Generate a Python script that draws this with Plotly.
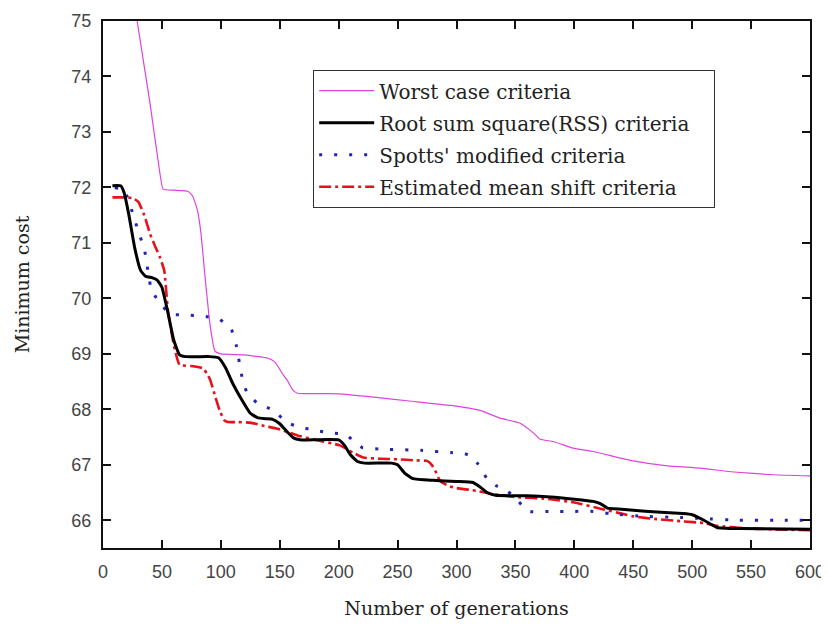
import plotly.graph_objects as go

# ---- data ----
worst_x = [25, 29, 40, 48, 51, 60, 72, 76, 80, 83, 87, 91, 95, 100, 120, 140, 146, 152, 157, 161, 165, 200, 230, 260, 295, 320, 337, 354, 365, 371, 382, 399, 416, 450, 479, 507, 535, 569, 600]
worst_y = [75.6, 75.0, 73.5, 72.3, 71.97, 71.95, 71.93, 71.85, 71.6, 71.2, 70.3, 69.5, 69.05, 69.0, 68.98, 68.92, 68.85, 68.65, 68.5, 68.35, 68.29, 68.28, 68.22, 68.15, 68.07, 67.98, 67.84, 67.75, 67.58, 67.46, 67.42, 67.3, 67.24, 67.07, 66.98, 66.94, 66.87, 66.82, 66.8]

rss_x = [8, 15, 18, 22, 27, 32, 36, 42, 46, 50, 55, 60, 65, 70, 90, 98, 104, 110, 117, 125, 131, 138, 144, 150, 156, 162, 167, 200, 205, 210, 216, 222, 245, 250, 256, 263, 280, 300, 314, 320, 326, 333, 360, 380, 400, 416, 422, 428, 440, 450, 470, 492, 500, 510, 521, 540, 600]
rss_y = [72.03, 72.03, 71.9, 71.5, 70.9, 70.5, 70.4, 70.37, 70.33, 70.2, 69.75, 69.25, 68.98, 68.95, 68.95, 68.93, 68.75, 68.47, 68.2, 67.93, 67.85, 67.83, 67.82, 67.74, 67.6, 67.48, 67.45, 67.45, 67.35, 67.18, 67.06, 67.03, 67.03, 67.0, 66.85, 66.75, 66.72, 66.7, 66.68, 66.6, 66.5, 66.45, 66.44, 66.42, 66.38, 66.34, 66.3, 66.22, 66.2, 66.18, 66.15, 66.12, 66.1, 66.0, 65.87, 65.85, 65.84]

spotts_x = [10, 18, 25, 30, 35, 41, 47, 51, 55, 59, 70, 85, 99, 105, 109, 113, 118, 122, 131, 145, 156, 167, 180, 195, 206, 213, 220, 240, 270, 295, 307, 313, 318, 323, 327, 334, 340, 350, 361, 380, 400, 416, 430, 460, 490, 509, 540, 570, 600]
spotts_y = [72.0, 71.95, 71.55, 71.2, 70.9, 70.16, 69.95, 69.85, 69.75, 69.71, 69.7, 69.68, 69.62, 69.52, 69.44, 69.16, 68.58, 68.31, 68.11, 67.98, 67.76, 67.68, 67.62, 67.57, 67.55, 67.42, 67.31, 67.28, 67.26, 67.22, 67.2, 67.15, 67.02, 66.85, 66.71, 66.62, 66.58, 66.4, 66.16, 66.16, 66.16, 66.16, 66.12, 66.07, 66.05, 66.03, 66.0, 66.0, 66.0]

ems_x = [8, 21, 26, 30, 35, 40, 44, 48, 52, 55, 58, 61, 65, 75, 85, 88, 91, 95, 99, 103, 106, 115, 125, 137, 148, 158, 165, 180, 201, 212, 221, 235, 250, 265, 275, 279, 283, 286, 293, 300, 317, 331, 350, 380, 400, 424, 440, 450, 470, 492, 510, 521, 550, 600]
ems_y = [71.82, 71.82, 71.8, 71.74, 71.5, 71.16, 70.95, 70.76, 70.5, 69.8, 69.4, 69.07, 68.8, 68.78, 68.74, 68.65, 68.53, 68.25, 67.98, 67.8, 67.77, 67.77, 67.76, 67.7, 67.65, 67.58, 67.53, 67.45, 67.35, 67.22, 67.13, 67.11, 67.1, 67.08, 67.07, 67.0, 66.85, 66.71, 66.62, 66.58, 66.53, 66.47, 66.42, 66.38, 66.32, 66.2, 66.12, 66.07, 66.02, 65.98, 65.95, 65.9, 65.85, 65.82]

x_ticks = [0, 50, 100, 150, 200, 250, 300, 350, 400, 450, 500, 550, 600]
y_ticks = [66, 67, 68, 69, 70, 71, 72, 73, 74, 75]

fig = go.Figure()
fig.add_trace(go.Scatter(x=worst_x, y=worst_y, mode="lines", name="Worst case criteria",
                         legendgroup="a", legendrank=1,
                         line=dict(color="#dd44dd", width=1.2, shape="spline", smoothing=0.4)))
fig.add_trace(go.Scatter(x=ems_x, y=ems_y, mode="lines", name="Estimated mean shift criteria",
                         legendgroup="d", legendrank=4,
                         line=dict(color="#e8101a", width=2.6, dash="12px,4px,3px,4px", shape="spline", smoothing=0.4)))
fig.add_trace(go.Scatter(x=spotts_x, y=spotts_y, mode="lines", name="Spotts' modified criteria",
                         legendgroup="c", legendrank=3,
                         line=dict(color="#2424b4", width=3, dash="3px,12px", shape="spline", smoothing=0.4)))
fig.add_trace(go.Scatter(x=rss_x, y=rss_y, mode="lines", name="Root sum square(RSS) criteria\u00a0\u00a0\u00a0",
                         legendgroup="b", legendrank=2,
                         line=dict(color="#000000", width=3, shape="spline", smoothing=0.4)))

axis_common = dict(showgrid=False, zeroline=False, showline=True, linecolor="#111", linewidth=2,
                   mirror="ticks", ticks="inside", ticklen=8, tickwidth=1.5, tickcolor="#111",
                   automargin=False, ticklabelstandoff=6,
                   tickfont=dict(family="Liberation Sans, Arial", size=18, color="#444"))

title_font = dict(family="DejaVu Serif, Liberation Serif", size=19, color="#222")

# the page body adds an 8px offset; the figure is sized to fill the window after it
fig.update_layout(
    width=821, height=617,
    margin=dict(l=95, r=19, t=13, b=77),
    paper_bgcolor="white", plot_bgcolor="white",
    xaxis=dict(range=[0, 600], tickvals=x_ticks,
               title=dict(text="Number of generations", standoff=21, font=title_font),
               **axis_common),
    yaxis=dict(range=[65.5, 75], tickvals=y_ticks,
               title=dict(text="Minimum cost", standoff=37, font=title_font),
               **axis_common),
    legend=dict(x=0.297, y=0.907, xanchor="left", yanchor="top",
                bordercolor="#333", borderwidth=1.2, bgcolor="white",
                font=dict(family="DejaVu Serif, Liberation Serif", size=20, color="#222"),
                traceorder="grouped", itemwidth=55, tracegroupgap=3),
    showlegend=True,
)

fig.write_html("out.html")
